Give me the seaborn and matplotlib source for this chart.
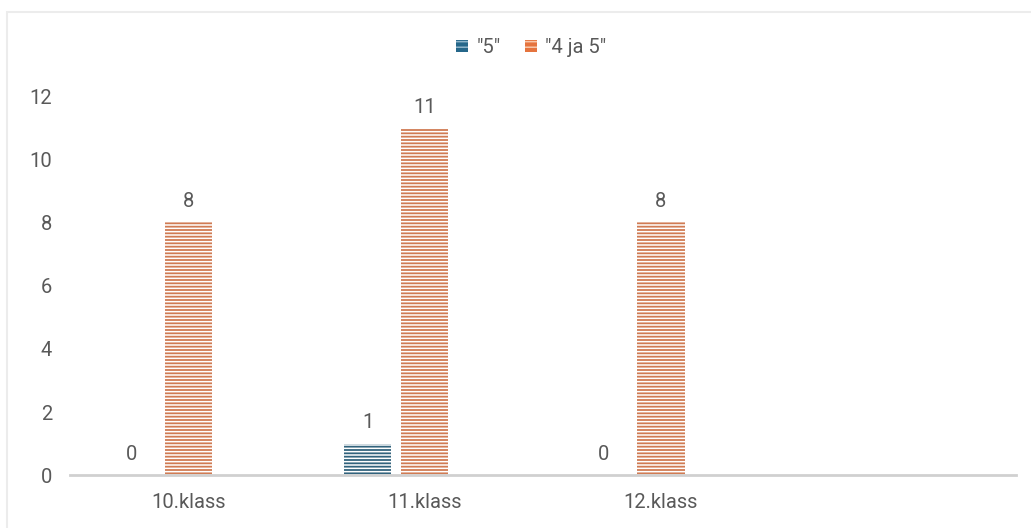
import pandas as pd
import matplotlib.pyplot as plt
import matplotlib.patches as mpatches
import matplotlib.colors as mcolors
import seaborn as sns

# Chart data
categories = ['10.klass', '11.klass', '12.klass', ' ']
series_names = ['"5"', '"4 ja 5"', 'tühi']
values_5 = [0, 1, 0]
values_4ja5 = [8, 11, 8]
yticks = [0, 2, 4, 6, 8, 10, 12]

rows = []
for cat, v in zip(categories[:3], values_5):
    rows.append({'klass': cat, 'seeria': series_names[0], 'arv': v})
for cat, v in zip(categories[:3], values_4ja5):
    rows.append({'klass': cat, 'seeria': series_names[1], 'arv': v})
df = pd.DataFrame(rows)

sns.set_style('white')
plt.rcParams['font.family'] = ['Roboto', 'DejaVu Sans']
plt.rcParams['hatch.linewidth'] = 1.1

text_color = '#595959'
fs = 14.5
face_colors = {'"5"': '#25678a', '"4 ja 5"': '#e5743e', 'tühi': '#ffffff'}
hatch_colors = {'"5"': '#8fb5ca', '"4 ja 5"': '#f8c7aa', 'tühi': '#ffffff'}

fig = plt.figure(figsize=(10.31, 5.28), dpi=100)
ax = fig.add_axes([0.068, 0.1, 0.917, 0.718])

sns.barplot(data=df, x='klass', y='arv', hue='seeria', order=categories,
            hue_order=series_names, palette=face_colors, width=0.725, gap=0.17,
            errorbar=None, legend=False, ax=ax)

# horizontal stripes on the bars
for patch in ax.patches:
    fc = patch.get_facecolor()[:3]
    for name, col in face_colors.items():
        if all(abs(a - b) < 0.005 for a, b in zip(fc, mcolors.to_rgb(col))):
            patch.set_edgecolor(hatch_colors[name])
    patch.set_hatch('-----')
    patch.set_linewidth(0)

for container in ax.containers[:2]:
    ax.bar_label(container, fmt='%g', padding=8, fontsize=fs, color=text_color)

ax.set_ylim(0, 12)
ax.set_yticks(yticks)
ax.set_xlim(-0.5, 3.5)
ax.set_xlabel('')
ax.set_ylabel('')
ax.tick_params(axis='both', length=0, labelsize=fs, labelcolor=text_color)
ax.tick_params(axis='x', pad=13)
ax.tick_params(axis='y', pad=13)
for side in ['top', 'right', 'left']:
    ax.spines[side].set_visible(False)
ax.spines['bottom'].set_color('#d0d0d0')
ax.spines['bottom'].set_linewidth(2)

handles = []
for name in series_names[:2]:
    handles.append(mpatches.Patch(facecolor=face_colors[name], edgecolor=hatch_colors[name],
                                  hatch='---', linewidth=0, label=name))
fig.legend(handles=handles, loc='center', bbox_to_anchor=(0.515, 0.91), ncol=2,
           frameon=False, fontsize=fs, labelcolor=text_color, handlelength=0.6,
           handleheight=0.6, handletextpad=0.4, columnspacing=1.2)

# light frame around the chart area
fig.patches.append(mpatches.Rectangle((0.007, -0.05), 1.2, 1.027, transform=fig.transFigure,
                                      fill=False, edgecolor='#ececec', linewidth=1.5))

plt.savefig('out.png', dpi=100)
plt.close()
